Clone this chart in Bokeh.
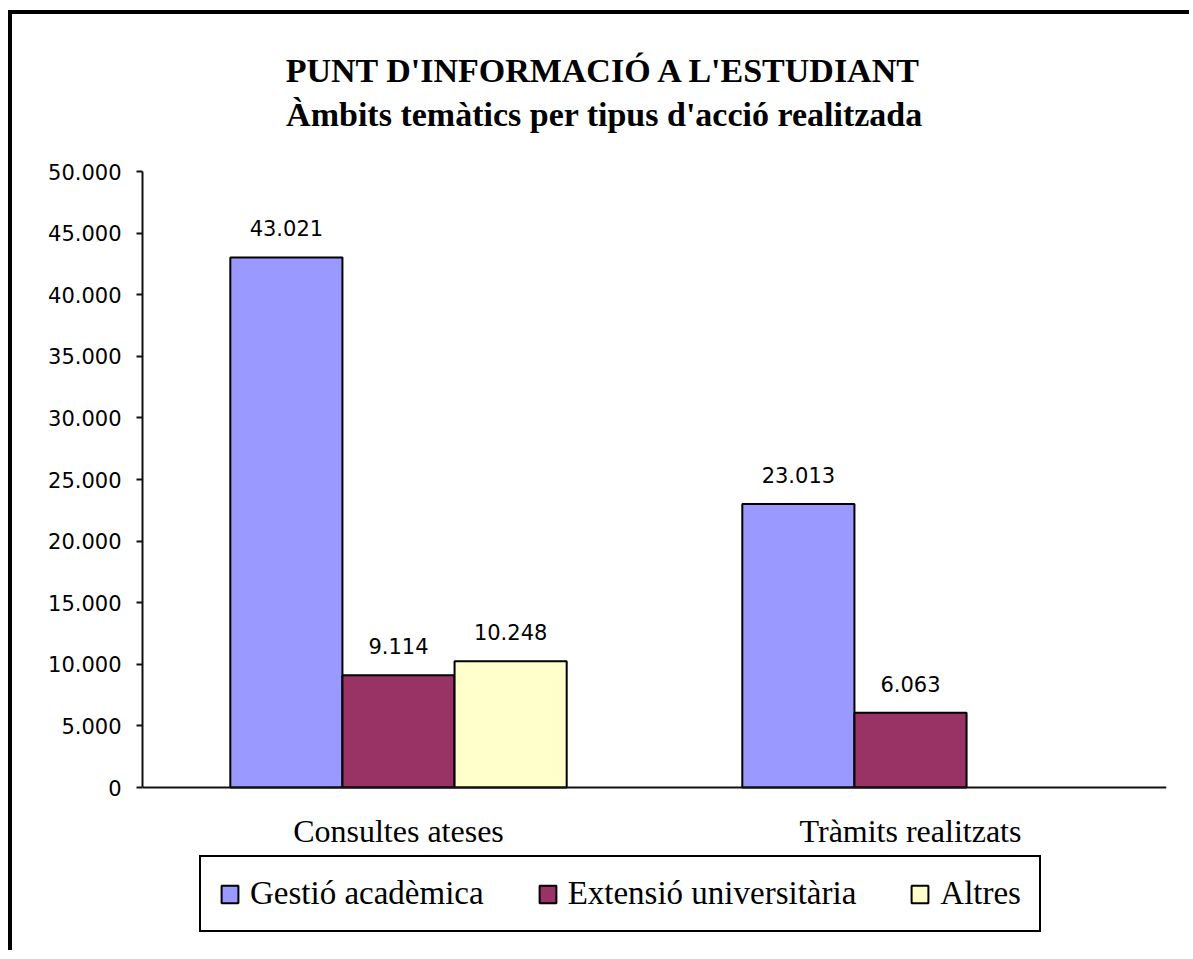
from bokeh.plotting import figure
from bokeh.models import (ColumnDataSource, LabelSet, Label, Legend, LegendItem,
                          FixedTicker, InlineStyleSheet)
from bokeh.transform import dodge
from bokeh.core.properties import value
from bokeh.embed import file_html
from bokeh.resources import INLINE

# ---------------- data ----------------
categories = ["Consultes ateses", "Tràmits realitzats"]
series_names = ["Gestió acadèmica", "Extensió universitària", "Altres"]
gestio = [43021, 23013]
extensio = [9114, 6063]
altres = [10248, None]
series_colors = ["#9999FF", "#993366", "#FFFFCC"]
y_ticks = [0, 5000, 10000, 15000, 20000, 25000, 30000, 35000, 40000, 45000, 50000]
y_tick_labels = ["0", "5.000", "10.000", "15.000", "20.000", "25.000", "30.000",
                 "35.000", "40.000", "45.000", "50.000"]
title_line1 = "PUNT D'INFORMACIÓ A L'ESTUDIANT"
title_line2 = "Àmbits temàtics per tipus d'acció realitzada"
y_axis_max = 50000


def fmt(v):
    return f"{v:,}".replace(",", ".")


# frame extends above/below the value axis so titles and legend fit inside it
px_per_unit = 616 / y_axis_max
y_lo = -(163 / px_per_unit)
y_hi = y_axis_max + 147 / px_per_unit

p = figure(x_range=categories, y_range=(y_lo, y_hi), width=1181, height=940,
           output_backend="svg", toolbar_location=None,
           min_border_left=130, min_border_right=27,
           min_border_top=10, min_border_bottom=4)
p.stylesheets = [InlineStyleSheet(css=":host { border-top: 4px solid #000; border-left: 4px solid #000; margin-top: 10px; margin-left: 8px; }")]

p.outline_line_color = None
p.xgrid.grid_line_color = None
p.ygrid.grid_line_color = None
p.background_fill_color = "white"
p.border_fill_color = "white"

bw = 0.219
offsets = [-bw, 0.0, bw]
all_vals = [gestio, extensio, altres]
renderers = []
for name, vals, col, off in zip(series_names, all_vals, series_colors, offsets):
    cats = [c for c, v in zip(categories, vals) if v is not None]
    tops = [v for v in vals if v is not None]
    src = ColumnDataSource(dict(cat=cats, top=tops, lab=[fmt(v) for v in tops]))
    r = p.vbar(x=dodge("cat", off, range=p.x_range), top="top", bottom=0, width=bw,
               source=src, fill_color=col, line_color="black", line_width=2)
    renderers.append(r)
    ls = LabelSet(x=dodge("cat", off, range=p.x_range), y="top", text="lab",
                  source=src, y_offset=21, text_align="center",
                  text_baseline="alphabetic", text_font=value("DejaVu Sans"),
                  text_font_size="21px", text_color="black")
    p.add_layout(ls)

# axes
p.yaxis.bounds = (0, y_axis_max)
p.yaxis.ticker = FixedTicker(ticks=y_ticks)
p.yaxis.major_label_overrides = {t: l for t, l in zip(y_ticks, y_tick_labels)}
p.yaxis.major_label_text_font = "DejaVu Sans"
p.yaxis.major_label_text_font_size = "21px"
p.yaxis.major_label_text_color = "black"
p.yaxis.major_tick_in = 0
p.yaxis.major_tick_out = 6
p.yaxis.minor_tick_line_color = None
p.yaxis.major_label_standoff = 15
p.yaxis.axis_line_width = 2
p.yaxis.axis_line_color = "#111111"
p.yaxis.major_tick_line_width = 2
p.yaxis.major_tick_line_color = "#111111"

p.xaxis.fixed_location = 0
p.xaxis.major_tick_line_color = None
p.xaxis.minor_tick_line_color = None
p.xaxis.major_label_text_font = "Liberation Serif"
p.xaxis.major_label_text_font_size = "32px"
p.xaxis.major_label_text_color = "black"
p.xaxis.major_label_standoff = 19
p.xaxis.axis_line_width = 2
p.xaxis.axis_line_color = "#111111"

# titles (screen coords relative to the frame)
p.add_layout(Label(x=462, y=880, x_units="screen", y_units="screen", text=title_line1,
                   text_align="center", text_baseline="alphabetic",
                   text_font="Liberation Serif", text_font_style="bold",
                   text_font_size="34px", text_color="black"))
p.add_layout(Label(x=462, y=836, x_units="screen", y_units="screen", text=title_line2,
                   text_align="center", text_baseline="alphabetic",
                   text_font="Liberation Serif", text_font_style="bold",
                   text_font_size="34px", text_color="black"))

legend = Legend(items=[LegendItem(label=n, renderers=[r]) for n, r in zip(series_names, renderers)],
                orientation="horizontal", location=(57, 18),
                glyph_width=21, glyph_height=22, label_standoff=10, spacing=53,
                padding=18, margin=0, label_height=30,
                label_text_font="Liberation Serif", label_text_font_size="33px",
                label_text_color="black", border_line_color="black",
                border_line_alpha=1.0, border_line_width=2,
                background_fill_color="white", background_fill_alpha=1.0)
p.add_layout(legend, "center")

open("out.html", "w").write(file_html(p, INLINE))
